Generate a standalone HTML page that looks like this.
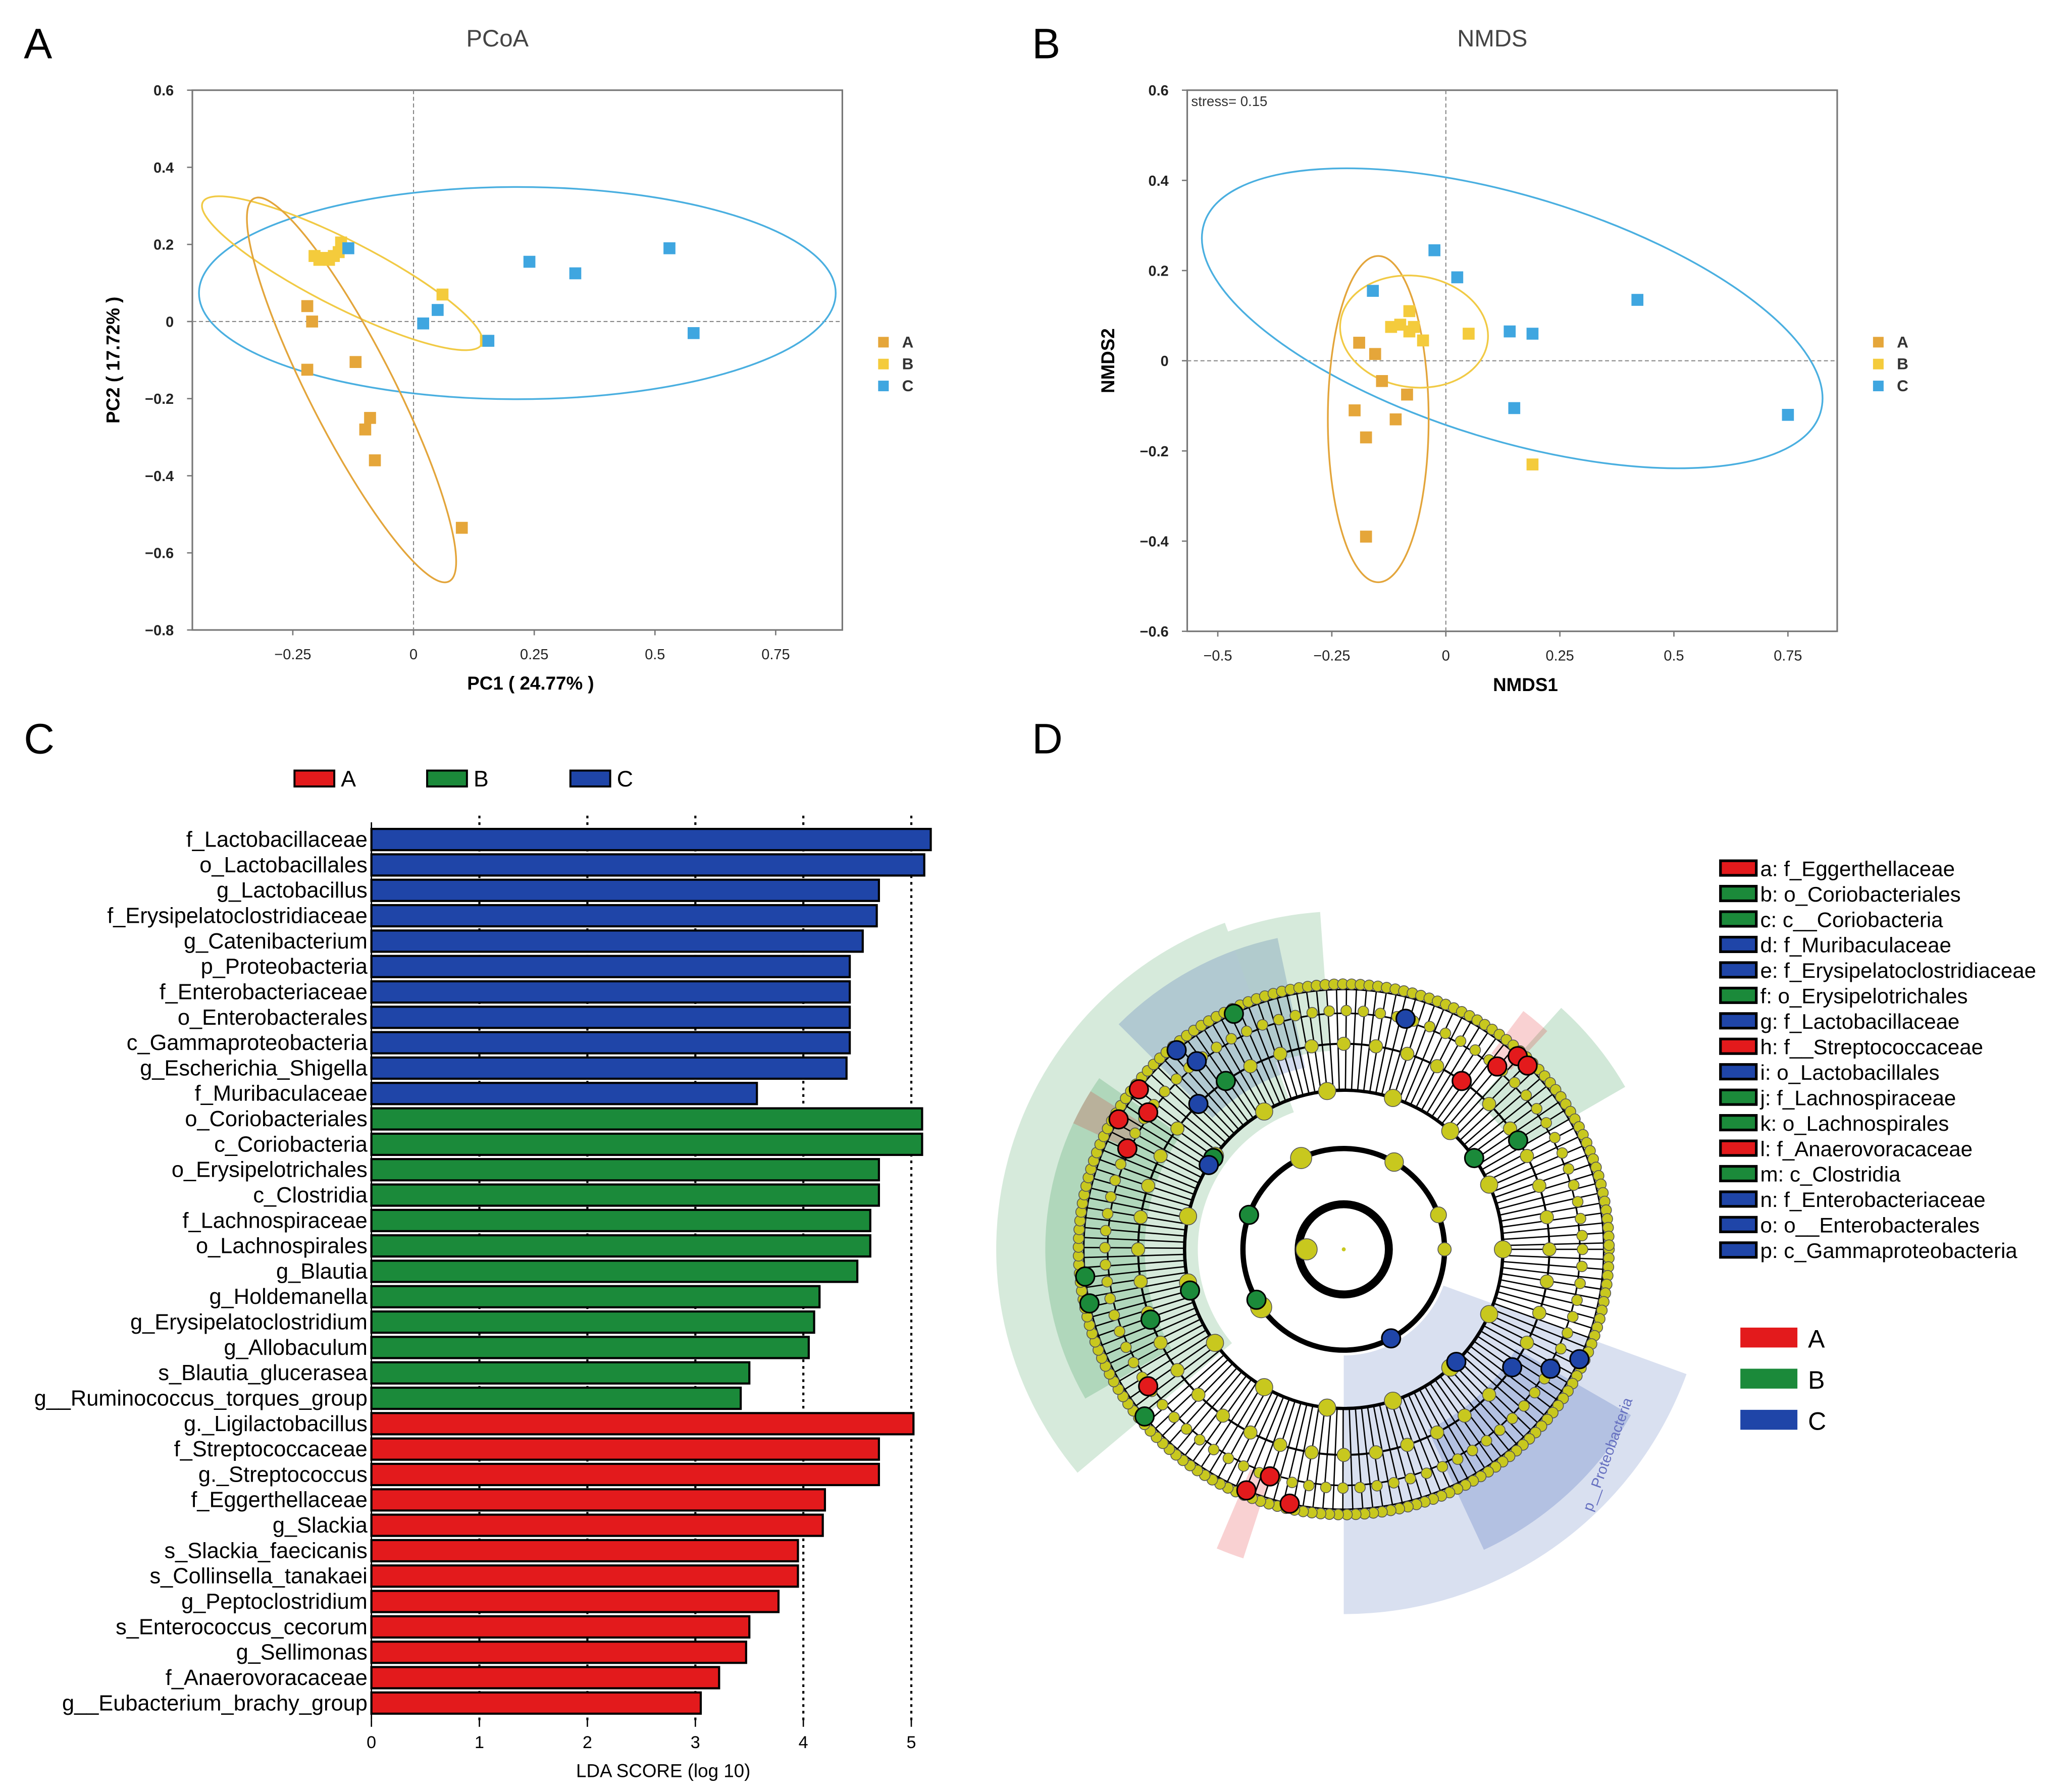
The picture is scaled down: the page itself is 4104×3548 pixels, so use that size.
<!DOCTYPE html>
<html><head><meta charset="utf-8"><style>
html,body{margin:0;padding:0;background:#fff}
svg{display:block}
text{font-family:"Liberation Sans",sans-serif}
</style></head><body>
<svg id="fig" width="4104" height="3548" viewBox="0 0 1562 1350.4" xmlns="http://www.w3.org/2000/svg">
<rect width="1562" height="1351" fill="#fff"/>
<g id="pA"></g>
<g id="pB"></g>
<g id="pC"></g>
<g id="pD"></g>
</svg>
<script>
// ---------- data ----------
const pcoaAx=[-0.22,-0.21,-0.22,-0.12,-0.09,-0.10,-0.08,0.10];
const pcoaAy=[0.04,0,-0.125,-0.105,-0.25,-0.28,-0.36,-0.535];
const pcoaBx=[-0.205,-0.195,-0.185,-0.175,-0.165,-0.155,-0.15,0.06,0.15];
const pcoaBy=[0.17,0.16,0.165,0.16,0.17,0.18,0.205,0.07,-0.05];
const pcoaCx=[-0.135,0.24,0.335,0.53,0.58,0.05,0.02,0.155];
const pcoaCy=[0.19,0.155,0.125,0.19,-0.03,0.03,-0.005,-0.05];
const nmdsAx=[-0.19,-0.155,-0.14,-0.2,-0.175,-0.11,-0.085,-0.175];
const nmdsAy=[0.04,0.015,-0.045,-0.11,-0.17,-0.13,-0.075,-0.39];
const nmdsBx=[-0.12,-0.1,-0.08,-0.07,-0.08,-0.05,0.05,0.19];
const nmdsBy=[0.075,0.08,0.065,0.075,0.11,0.045,0.06,-0.23];
const nmdsCx=[-0.025,0.025,-0.16,0.14,0.19,0.42,0.15,0.75];
const nmdsCy=[0.245,0.185,0.155,0.065,0.06,0.135,-0.105,-0.12];
const ldaLabels=["f_Lactobacillaceae","o_Lactobacillales","g_Lactobacillus","f_Erysipelatoclostridiaceae","g_Catenibacterium","p_Proteobacteria","f_Enterobacteriaceae","o_Enterobacterales","c_Gammaproteobacteria","g_Escherichia_Shigella","f_Muribaculaceae","o_Coriobacteriales","c_Coriobacteria","o_Erysipelotrichales","c_Clostridia","f_Lachnospiraceae","o_Lachnospirales","g_Blautia","g_Holdemanella","g_Erysipelatoclostridium","g_Allobaculum","s_Blautia_glucerasea","g__Ruminococcus_torques_group","g._Ligilactobacillus","f_Streptococcaceae","g._Streptococcus","f_Eggerthellaceae","g_Slackia","s_Slackia_faecicanis","s_Collinsella_tanakaei","g_Peptoclostridium","s_Enterococcus_cecorum","g_Sellimonas","f_Anaerovoracaceae","g__Eubacterium_brachy_group"];
const ldaValues=[5.18,5.12,4.7,4.68,4.55,4.43,4.43,4.43,4.43,4.4,3.57,5.1,5.1,4.7,4.7,4.62,4.62,4.5,4.15,4.1,4.05,3.5,3.42,5.02,4.7,4.7,4.2,4.18,3.95,3.95,3.77,3.5,3.47,3.22,3.05];
const ldaGroups=["C","C","C","C","C","C","C","C","C","C","C","B","B","B","B","B","B","B","B","B","B","B","B","A","A","A","A","A","A","A","A","A","A","A","A"];
const ldaTicks=[0,1,2,3,4,5];
const cladoLegend=["a: f_Eggerthellaceae","b: o_Coriobacteriales","c: c__Coriobacteria","d: f_Muribaculaceae","e: f_Erysipelatoclostridiaceae","f: o_Erysipelotrichales","g: f_Lactobacillaceae","h: f__Streptococcaceae","i: o_Lactobacillales","j: f_Lachnospiraceae","k: o_Lachnospirales","l: f_Anaerovoracaceae","m: c_Clostridia","n: f_Enterobacteriaceae","o: o__Enterobacterales","p: c_Gammaproteobacteria"];
const cladoLegendGroups=["A","B","B","C","C","B","C","A","C","B","B","A","B","C","C","C"];

const NS="http://www.w3.org/2000/svg";
function mk(p,tag,at,txt){const e=document.createElementNS(NS,tag);for(const k in at)e.setAttribute(k,at[k]);if(txt!==undefined)e.textContent=txt;p.appendChild(e);return e;}

function scatter(g,o){
  const sx=v=>o.x0+(v-o.xmin)/(o.xmax-o.xmin)*(o.x1-o.x0);
  const sy=v=>o.y1-(v-o.ymin)/(o.ymax-o.ymin)*(o.y1-o.y0);
  let t=mk(g,'text',{x:o.letterX,y:44,'font-size':32},o.letter);
  
  
  t=mk(g,'text',{x:(o.x0+o.x1)/2-15,y:35,'font-size':18,'text-anchor':'middle',fill:'#444'},o.title);
  
  
  let r=mk(g,'rect',{x:o.x0,y:o.y0,width:o.x1-o.x0,height:o.y1-o.y0,fill:'none',stroke:'#777','stroke-width':1.2});
  
  
  let l=mk(g,'line',{x1:sx(0),x2:sx(0),y1:o.y0,y2:o.y1,stroke:'#888','stroke-dasharray':'3,2','stroke-width':0.8});
  
  
  l=mk(g,'line',{x1:o.x0,x2:o.x1,y1:sy(0),y2:sy(0),stroke:'#888','stroke-dasharray':'3,2','stroke-width':0.8});
  
  
  o.yt.forEach(v=>{mk(g,'line',{x1:o.x0-4,x2:o.x0,y1:sy(v),y2:sy(v),stroke:'#777'});
    const tt=mk(g,'text',{x:o.x0-14,y:sy(v)+4,'font-size':11,'font-weight':'bold','text-anchor':'end',fill:'#222'},o.ytl(v));
    
    });
  o.xt.forEach(v=>{mk(g,'line',{x1:sx(v),x2:sx(v),y1:o.y1,y2:o.y1+4,stroke:'#777'});
    const tt=mk(g,'text',{x:sx(v),y:o.y1+22,'font-size':11,'text-anchor':'middle',fill:'#222'},o.xtl(v));
    
    });
  t=mk(g,'text',{x:(o.x0+o.x1)/2+10,y:o.y1+45,'font-size':14,'font-weight':'bold','text-anchor':'middle'},o.xl);
  
  
  t=mk(g,'text',{x:0,y:0,'font-size':14,'font-weight':'bold','text-anchor':'middle',transform:`translate(${o.x0-55},${(o.y0+o.y1)/2}) rotate(-90)`},o.yl);
  
  
  o.ell.forEach(e=>{const el=mk(g,'ellipse',{cx:e[0],cy:e[1],rx:e[2],ry:e[3],transform:`rotate(${e[4]} ${e[0]} ${e[1]})`,fill:'none',stroke:e[5],'stroke-width':1.3});
    
    });
  const cols={A:'#E5A63A',B:'#F4CB3C',C:'#3FA6E0'};
  o.series.forEach(s=>{s[1].forEach((x,i)=>{const p=mk(g,'rect',{x:sx(x)-4.5,y:sy(s[2][i])-4.5,width:9,height:9,fill:cols[s[0]]});
    
    });});
  ['A','B','C'].forEach((k,i)=>{const ly=o.legY+i*16.5;
    const lr=mk(g,'rect',{x:o.legX,y:ly-4,width:8,height:8,fill:cols[k]});
    
    
    const lt=mk(g,'text',{x:o.legX+18,y:ly+4,'font-size':12,'font-weight':'bold',fill:'#333'},k);
    
    });
}
scatter(document.getElementById('pA'),{letter:'A',letterX:18,title:'PCoA',x0:145,x1:635,y0:68,y1:475,
  xmin:-0.458,xmax:0.888,ymin:-0.8,ymax:0.6,xt:[-0.25,0,0.25,0.5,0.75],yt:[0.6,0.4,0.2,0,-0.2,-0.4,-0.6,-0.8],
  xtl:v=>v===0?'0':(v<0?'\u2212'+(-v):''+v),ytl:v=>v===0?'0':(v<0?'\u2212'+(-v).toFixed(1):v.toFixed(1)),
  xl:'PC1 ( 24.77% )',yl:'PC2 ( 17.72% )',
  ell:[[390,221,240,80,0,'#4AAFE0'],[258,206,118,25,27,'#F1CA45'],[265,294,162,32,63,'#E3A53B']],
  series:[['A',pcoaAx,pcoaAy],['B',pcoaBx,pcoaBy],['C',pcoaCx,pcoaCy]],legX:662,legY:258});
scatter(document.getElementById('pB'),{letter:'B',letterX:778,title:'NMDS',x0:895,x1:1385,y0:68,y1:476,
  xmin:-0.567,xmax:0.858,ymin:-0.6,ymax:0.6,xt:[-0.5,-0.25,0,0.25,0.5,0.75],yt:[0.6,0.4,0.2,0,-0.2,-0.4,-0.6],
  xtl:v=>v===0?'0':(v<0?'\u2212'+(-v):''+v),ytl:v=>v===0?'0':(v<0?'\u2212'+(-v).toFixed(1):v.toFixed(1)),
  xl:'NMDS1',yl:'NMDS2',
  ell:[[1140,240,243,92,17,'#4AAFE0'],[1039,316,38,123,0,'#E3A53B'],[1066,250,56,42,8,'#F1CA45']],
  series:[['A',nmdsAx,nmdsAy],['B',nmdsBx,nmdsBy],['C',nmdsCx,nmdsCy]],legX:1412,legY:258});
{const g=document.getElementById('pB');const t=mk(g,'text',{x:898,y:80,'font-size':10.5,fill:'#333'},'stress= 0.15');

}

// ---------- LDA ----------
{const g=document.getElementById('pC');
 const bx=v=>280+v*81.4, by=i=>633+i*19.15;
 const cols={A:'#E31A1C',B:'#1B8A3A',C:'#1F45A8'};
 let t=mk(g,'text',{x:18,y:568,'font-size':32},'C');
 
 
 [['A',222],['B',322],['C',430]].forEach(d=>{const r=mk(g,'rect',{x:d[1],y:581,width:30,height:12,fill:cols[d[0]],stroke:'#000','stroke-width':1.5});
   
   
   const tt=mk(g,'text',{x:d[1]+35,y:593,'font-size':17},d[0]);
   
   });
 ldaTicks.forEach(v=>{if(v>0){const l=mk(g,'line',{x1:bx(v),x2:bx(v),y1:615,y2:1297,stroke:'#000','stroke-width':1.6,'stroke-dasharray':'2,3'});
   
   }
   mk(g,'line',{x1:bx(v),x2:bx(v),y1:1297,y2:1302,stroke:'#000'});
   const tt=mk(g,'text',{x:bx(v),y:1318,'font-size':13,'text-anchor':'middle'},String(v));
   
   });
 mk(g,'line',{x1:280,x2:280,y1:620,y2:1297,stroke:'#000','stroke-width':1});
 ldaValues.forEach((v,i)=>{const r=mk(g,'rect',{x:bx(0),y:by(i)-8,width:bx(v)-bx(0),height:16,fill:cols[ldaGroups[i]],stroke:'#000','stroke-width':1.6});
   
   
   const tt=mk(g,'text',{x:277,y:by(i)+5.5,'font-size':16.5,'text-anchor':'end'},ldaLabels[i]);
   
   });
 t=mk(g,'text',{x:500,y:1340,'font-size':14,'text-anchor':'middle'},'LDA SCORE (log 10)');
 
 
}

// ---------- cladogram ----------
{const g=document.getElementById('pD');const cx=1013,cy=942;
 const cols={A:'#E31A1C',B:'#1B8A3A',C:'#1F45A8'};
 let t=mk(g,'text',{x:778,y:568,'font-size':32},'D');
 
 
 const P=(a,r)=>[cx+r*Math.cos(a*Math.PI/180),cy+r*Math.sin(a*Math.PI/180)];
 function sector(a0,a1,r0,r1,fill,op,name){const p0=P(a0,r0),p1=P(a0,r1),p2=P(a1,r1),p3=P(a1,r0);const lg=(a1-a0)>180?1:0;
   const s=mk(g,'path',{d:`M${p0}L${p1}A${r1},${r1} 0 ${lg} 1 ${p2}L${p3}A${r0},${r0} 0 ${lg} 0 ${p0}Z`,fill:fill,'fill-opacity':op});
   
   }
 sector(140,250,110,262,'#1B8A3A',0.18,'clade-sector-clostridia');
 sector(150,215,150,225,'#1B8A3A',0.2,'clade-sector-lachnospirales');
 sector(225,258,140,240,'#1F45A8',0.2,'clade-sector-lactobacillales');
 sector(250,266,150,255,'#1B8A3A',0.18,'clade-sector-erysipelotrichales');
 sector(312,330,150,245,'#1B8A3A',0.2,'clade-sector-coriobacteria');
 sector(20,90,80,275,'#1F45A8',0.17,'clade-sector-proteobacteria');
 sector(30,65,150,250,'#1F45A8',0.2,'clade-sector-gammaproteobacteria');
 sector(205,212,180,225,'#E31A1C',0.2,'clade-sector-a');
 sector(108,113,180,245,'#E31A1C',0.2,'clade-sector-l');
 sector(307,313,185,225,'#E31A1C',0.2,'clade-sector-h');
 const lines=[[34,'#000',6],[76,'#000',4],[120,'#000',2.5],[155,'#000',1.5],[178,'#000',1.2],[196,'#000',1.2]];
 lines.forEach(d=>{const c=mk(g,'circle',{cx:cx,cy:cy,r:d[0],fill:'none',stroke:d[1],'stroke-width':d[2]});
   
   });
 mk(g,'circle',{cx:cx,cy:cy,r:29,fill:'#fff'});
 for(let a=0;a<360;a+=2.2){const p0=P(a,120),p1=P(a,200);
   mk(g,'line',{x1:p0[0],y1:p0[1],x2:p1[0],y2:p1[1],stroke:'#000','stroke-width':1});}
 for(let a=0;a<360;a+=1.9){const p=P(a,200);mk(g,'circle',{cx:p[0],cy:p[1],r:4,fill:'#C8C81E',stroke:'#555','stroke-width':0.6});}
 for(let a=0;a<360;a+=4.1){const p=P(a,180);mk(g,'circle',{cx:p[0],cy:p[1],r:4,fill:'#C8C81E',stroke:'#555','stroke-width':0.6});}
 for(let a=0;a<360;a+=9){const p=P(a,155);mk(g,'circle',{cx:p[0],cy:p[1],r:5,fill:'#C8C81E',stroke:'#555','stroke-width':0.6});}
 for(let a=0;a<360;a+=24){const p=P(a,120);mk(g,'circle',{cx:p[0],cy:p[1],r:6.5,fill:'#C8C81E',stroke:'#555','stroke-width':0.6});}
 [[180,8],[145,8],[245,8],[300,7],[340,6],[0,5]].forEach(d=>{const p=P(d[0],d[0]===180?28:76);mk(g,'circle',{cx:p[0],cy:p[1],r:d[1],fill:'#C8C81E',stroke:'#555','stroke-width':0.6});});
 const hi=[[165,120,'B'],[160,155,'B'],[168,196,'B'],[174,196,'B'],[200,76,'B'],[215,120,'B'],[235,155,'B'],[245,196,'B'],[225,155,'C'],[212,120,'C'],[230,196,'C'],[205,180,'A'],[210,196,'A'],[218,196,'A'],[215,180,'A'],[232,180,'C'],[285,180,'C'],[305,155,'A'],[310,180,'A'],[312,196,'A'],[315,196,'A'],[325,120,'B'],[328,155,'B'],[62,76,'C'],[45,120,'C'],[35,155,'C'],[30,180,'C'],[25,196,'C'],[108,180,'A'],[112,196,'A'],[102,196,'A'],[145,180,'A'],[140,196,'B'],[150,76,'B']];
 hi.forEach(d=>{const p=P(d[0],d[1]);const c=mk(g,'circle',{cx:p[0],cy:p[1],r:7,fill:cols[d[2]],stroke:'#000','stroke-width':1.2});
   
   });
 mk(g,'circle',{cx:cx,cy:cy,r:1.5,fill:'#C8C81E'});
 t=mk(g,'text',{x:0,y:0,'font-size':11,fill:'#6670C0',transform:`translate(1200,1140) rotate(-70)`},'p__Proteobacteria');
 
 
 cladoLegend.forEach((s,i)=>{const y=655+i*19.2;
   const r=mk(g,'rect',{x:1297,y:y-6,width:27,height:11,fill:cols[cladoLegendGroups[i]],stroke:'#000','stroke-width':2});
   
   
   const tt=mk(g,'text',{x:1327,y:y+5.5,'font-size':16},s);
   
   });
 ['A','B','C'].forEach((k,i)=>{const y=1001+i*31;
   const r=mk(g,'rect',{x:1312,y:y,width:43,height:15,fill:cols[k]});
   
   
   const tt=mk(g,'text',{x:1363,y:y+15,'font-size':19},k);
   
   });
}
</script>
</body></html>
